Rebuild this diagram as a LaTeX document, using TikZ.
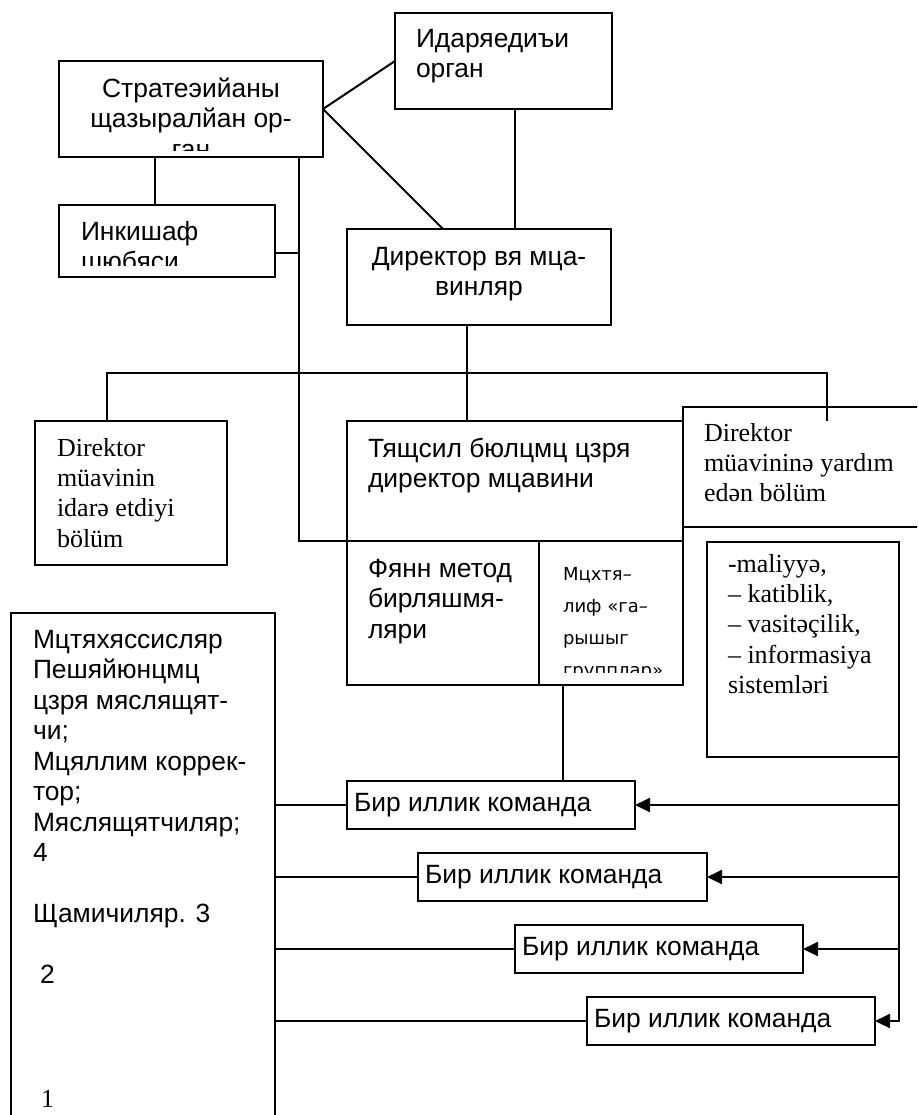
\documentclass[tikz,border=0pt]{standalone}
\usepackage{fontspec}
\setmainfont{Liberation Serif}
\setsansfont{Liberation Sans}
\newfontfamily\tahfont{DejaVu Sans}
\usetikzlibrary{arrows.meta}
\newcommand\linesL[1]{\begin{tabular}[t]{@{}l@{}}#1\end{tabular}}
\newcommand\linesC[1]{\begin{tabular}[t]{@{}c@{}}#1\end{tabular}}

\begin{document}
\begin{tikzpicture}[x=0.5pt, y=-0.5pt, line width=1pt]
\tikzstyle{boxStyle}=[draw, inner sep=0pt, outer sep=0pt, anchor=north west]
\tikzstyle{ruTextStyle}=[inner sep=0pt, anchor=base west, font=\sffamily\fontsize{13.2}{15.25}\selectfont]
\tikzstyle{azTextStyle}=[inner sep=0pt, anchor=base west, font=\rmfamily\fontsize{13}{15.2}\selectfont]
\tikzstyle{smallTextStyle}=[inner sep=0pt, anchor=base west, font=\tahfont\fontsize{9}{16}\selectfont]
\tikzstyle{arrowStyle}=[-{Triangle[length=7.5pt,width=7pt]}]
\clip (0,0) rectangle (917,1115);
% boxes
\node[boxStyle, minimum width=132pt, minimum height=48pt] (strat) at (59,61) {};
\node[boxStyle, minimum width=108.5pt, minimum height=48pt] (idar) at (395,13) {};
\node[boxStyle, minimum width=108pt, minimum height=36pt] (inki) at (59,205) {};
\node[boxStyle, minimum width=132pt, minimum height=48pt] (direk) at (347,229) {};
\node[boxStyle, minimum width=96pt, minimum height=72pt] (mudir) at (35,421) {};
\node[boxStyle, minimum width=168pt, minimum height=60pt] (tehsil) at (347,421) {};
\node[boxStyle, minimum width=130pt, minimum height=60pt] (yardim) at (683,407) {};
\node[boxStyle, minimum width=96pt, minimum height=72pt] (elm) at (347,541) {};
\node[boxStyle, minimum width=72pt, minimum height=72pt] (qarisiq) at (539,541) {};
\node[boxStyle, minimum width=96pt, minimum height=107.5pt] (siyahi) at (707,542) {};
\node[boxStyle, minimum width=132pt, minimum height=300pt] (mutexes) at (11,613) {};
\node[boxStyle, minimum width=144pt, minimum height=24pt] (team1) at (347,781) {};
\node[boxStyle, minimum width=144.5pt, minimum height=24pt] (team2) at (418,853) {};
\node[boxStyle, minimum width=144pt, minimum height=24pt] (team3) at (515,925) {};
\node[boxStyle, minimum width=144pt, minimum height=24pt] (team4) at (587,997) {};
% texts
\begin{scope}
\clip (strat.north west) rectangle ([yshift=3.5pt]strat.south east);
\node[ruTextStyle, anchor=base] (stratText) at (191,97) {\linesC{Стратеэийаны\\щазыралйан ор-\\ган}};
\end{scope}
\node[ruTextStyle] (idarText) at (415,47) {\linesL{Идаряедиъи\\орган}};
\begin{scope}
\clip (inki.north west) rectangle ([yshift=6pt]inki.south east);
\node[ruTextStyle] (inkiText) at (80,240) {\linesL{Инкишаф\\шюбяси}};
\end{scope}
\node[ruTextStyle, anchor=base] (direkText) at (479,265) {\linesC{Директор вя мца-\\винляр}};
\node[azTextStyle] (mudirText) at (56,456) {\linesL{Direktor\\müavinin\\idarə etdiyi\\bölüm}};
\node[ruTextStyle] (tehsilText) at (367,457) {\linesL{Тящсил бюлцмц цзря\\директор мцавини}};
\node[azTextStyle] (yardimText) at (703,441) {\linesL{Direktor\\müavininə yardım\\edən bölüm}};
\node[ruTextStyle] (elmText) at (367,577) {\linesL{Фянн метод\\бирляшмя-\\ляри}};
\begin{scope}
\clip (qarisiq.north west) rectangle ([yshift=6.5pt]qarisiq.south east);
\node[smallTextStyle] (qarisiqText) at (562,580) {\linesL{Мцхтя–\\лиф «га–\\рышыг\\групплар»}};
\end{scope}
\node[azTextStyle] (siyahiText) at (727,572) {\linesL{-maliyyə,\\– katiblik,\\– vasitəçilik,\\– informasiya\\sistemləri}};
\node[ruTextStyle] (mutexesText) at (32,648) {\linesL{Мцтяхяссисляр\\Пешяйюнцмц\\цзря мяслящят-\\чи;\\Мцяллим коррек-\\тор;\\Мяслящятчиляр;\\4\\[15.25pt]Щамичиляр. 3\\[15.25pt]\hspace{3.5pt}2}};
\node[azTextStyle] (mutexesOne) at (40,1107) {1};
\node[ruTextStyle] (team1Text) at (353,811) {Бир иллик команда};
\node[ruTextStyle] (team2Text) at (424,883) {Бир иллик команда};
\node[ruTextStyle] (team3Text) at (521,955) {Бир иллик команда};
\node[ruTextStyle] (team4Text) at (593,1027) {Бир иллик команда};
% connectors
\coordinate (spine) at (299,541);
\coordinate (busL) at (107,373);
\coordinate (busR) at (827,373);
\draw (strat.east) -- (idar.west);
\draw (strat.east) -- ([xshift=-18pt]direk.north);
\draw ([xshift=5.75pt]idar.south) -- ([xshift=5.75pt]idar.south |- direk.north);
\draw ([xshift=-18pt]strat.south) -- ([xshift=-18pt]strat.south |- inki.north);
\draw (strat.south -| spine) -- (spine) -- (elm.north west);
\draw ([yshift=-6pt]inki.east) -- ([yshift=-6pt]inki.east -| spine);
\draw ([xshift=-6pt]direk.south) -- ([xshift=-6pt]direk.south |- tehsil.north);
\draw (mudir.north -| busL) -- (busL) -- (busR) -- ([yshift=-7pt]yardim.north -| busR);
\draw ([xshift=-24pt]qarisiq.south) -- ([xshift=-24pt]qarisiq.south |- team1.north);
\foreach \t in {team1,team2,team3}
  \draw[arrowStyle] (siyahi.south east |- \t.east) -- (\t.east);
\draw[arrowStyle] (siyahi.south east) -- (siyahi.south east |- team4.east) -- (team4.east);
\foreach \t in {team1,team2,team3,team4}
  \draw (mutexes.east |- \t.east) -- (\t.west);
\end{tikzpicture}
\end{document}
